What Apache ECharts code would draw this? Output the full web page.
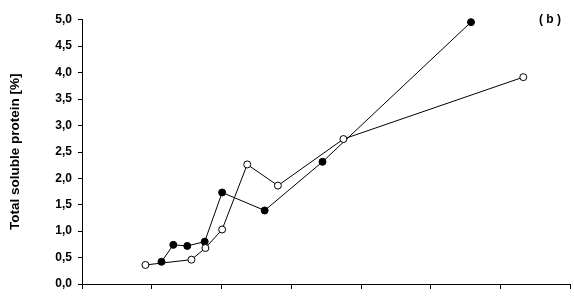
<!DOCTYPE html>
<html>
<head>
<meta charset="utf-8">
<script src="https://cdn.jsdelivr.net/npm/echarts@6/dist/echarts.min.js"></script>
<style>html,body{margin:0;padding:0;background:#fff}#c{width:574px;height:300px}</style>
</head>
<body>
<div id="c"></div>
<script>
const filledX = [11.4, 13.1, 15.1, 17.6, 20.1, 26.2, 34.5, 55.8];
const filledY = [0.42, 0.74, 0.72, 0.80, 1.73, 1.39, 2.31, 4.95];
const openX = [9.1, 15.7, 17.7, 20.1, 23.7, 28.1, 37.5, 63.3];
const openY = [0.36, 0.46, 0.68, 1.03, 2.26, 1.86, 2.74, 3.91];
const yTicks = ['0,0','0,5','1,0','1,5','2,0','2,5','3,0','3,5','4,0','4,5','5,0'];
const yAxisTitle = 'Total soluble protein [%]';
const panelLabel = '( b )';

const zip = (xs, ys) => xs.map((x, i) => [x, ys[i]]);
const font = 'Liberation Sans, Arial, sans-serif';
const chart = echarts.init(document.getElementById('c'), null, {renderer: 'canvas'});
chart.setOption({
  animation: false,
  backgroundColor: '#fff',
  grid: {left: 80, right: 4, top: 19.5, bottom: 16, containLabel: false},
  title: {
    text: panelLabel, right: 8, top: 9,
    textStyle: {fontFamily: font, fontWeight: 'bold', fontSize: 12, color: '#000'}
  },
  xAxis: {
    type: 'value', min: 0, max: 70, interval: 10,
    axisLine: {show: true, lineStyle: {color: '#000', width: 1}},
    axisTick: {show: true, length: 5, inside: false, lineStyle: {color: '#000'}},
    axisLabel: {show: false},
    splitLine: {show: false}
  },
  yAxis: {
    type: 'value', min: 0, max: 5, interval: 0.5,
    name: yAxisTitle, nameLocation: 'middle', nameGap: 60, nameRotate: 90,
    nameTextStyle: {fontFamily: font, fontWeight: 'bold', fontSize: 13.5, color: '#000'},
    axisLine: {show: true, lineStyle: {color: '#000', width: 1}},
    axisTick: {show: true, length: 4, inside: false, lineStyle: {color: '#000'}},
    axisLabel: {
      margin: 10, fontFamily: font, fontWeight: 'bold', fontSize: 12, color: '#000',
      formatter: v => yTicks[Math.round(v / 0.5)]
    },
    splitLine: {show: false}
  },
  series: [
    {
      type: 'line', data: zip(filledX, filledY),
      symbol: 'circle', symbolSize: 7,
      lineStyle: {color: '#000', width: 1},
      itemStyle: {color: '#000', borderColor: '#000', borderWidth: 1}
    },
    {
      type: 'line', data: zip(openX, openY),
      symbol: 'circle', symbolSize: 7,
      lineStyle: {color: '#000', width: 1},
      itemStyle: {color: '#fff', borderColor: '#000', borderWidth: 1}
    }
  ]
});
</script>
</body>
</html>
